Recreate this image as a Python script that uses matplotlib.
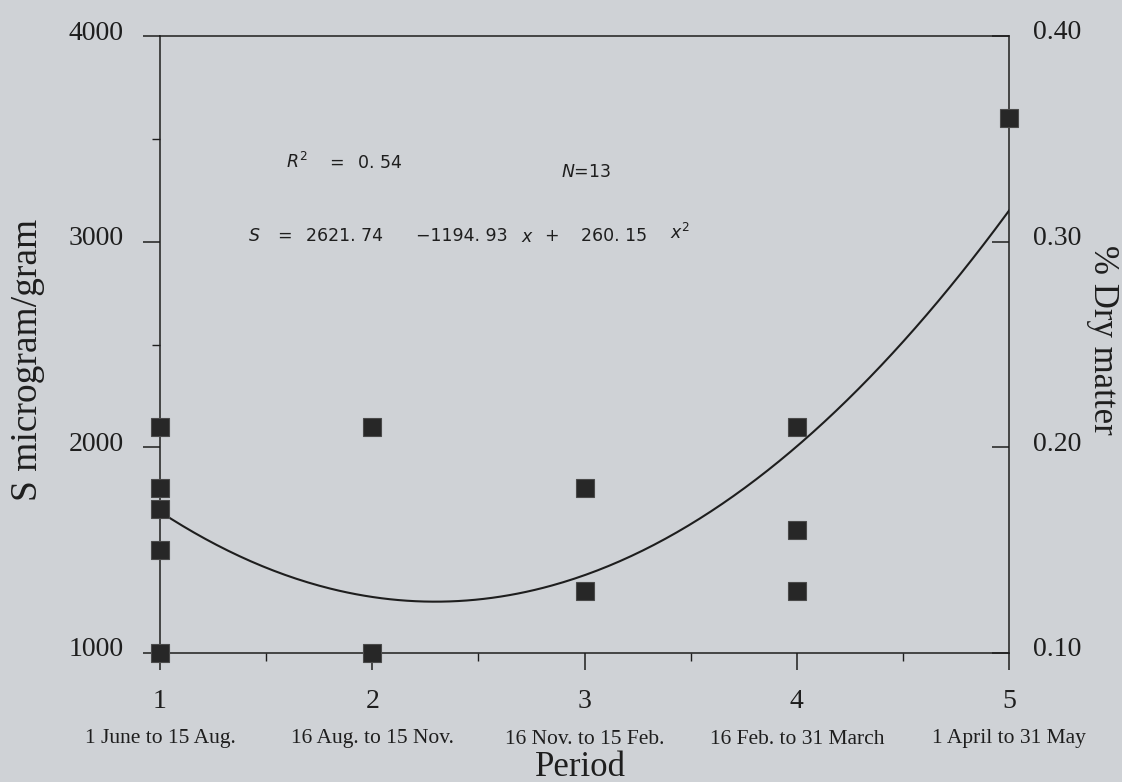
import numpy as np
import matplotlib
matplotlib.use("Agg")
import matplotlib.pyplot as plt
import matplotlib.transforms as mtransforms

# ---- data ----
period_x = [1, 1, 1, 1, 1, 2, 2, 3, 3, 4, 4, 4, 5]
s_values = [2100, 1800, 1700, 1500, 1000, 2100, 1000, 1800, 1300, 2100, 1600, 1300, 3600]
fit_coef = [2621.74, -1194.93, 260.15]   # S = a + b x + c x^2 (printed on chart)
period_ticks = [1, 2, 3, 4, 5]
period_names = ["1 June to 15 Aug.", "16 Aug. to 15 Nov.", "16 Nov. to 15 Feb.",
                "16 Feb. to 31 March", "1 April to 31 May"]
left_ticks = [1000, 2000, 3000, 4000]
right_ticks = [0.10, 0.20, 0.30, 0.40]
right_labels = ["0.10", "0.20", "0.30", "0.40"]

W, H = 1122, 782
BG = "#cfd2d6"
INK = "#1e1e1e"
SERIF = ["Liberation Serif", "DejaVu Serif"]

fig = plt.figure(figsize=(W / 100, H / 100), dpi=100, facecolor=BG)
L, R, T, B = 160, 1009, 36, 653
ax = fig.add_axes([L / W, 1 - B / H, (R - L) / W, (B - T) / H])
ax.set_facecolor(BG)
ax.set_xlim(1, 5)
ax.set_ylim(1000, 4000)

# fitted curve
xs = np.linspace(1, 5, 300)
ys = fit_coef[0] + fit_coef[1] * xs + fit_coef[2] * xs ** 2
ax.plot(xs, ys, color=INK, lw=1.5, zorder=3)

# points
ax.plot(period_x, s_values, linestyle="none", marker="s", markersize=13,
        markerfacecolor="#272727", markeredgecolor="#4a4a4a", markeredgewidth=0.8,
        clip_on=False, zorder=4)

for sp in ax.spines.values():
    sp.set_color(INK)
    sp.set_linewidth(1.1)

ax.set_xticks(period_ticks)
ax.set_xticklabels([str(p) for p in period_ticks])
ax.set_xticks([1.5, 2.5, 3.5, 4.5], minor=True)
ax.set_yticks(left_ticks)
ax.set_yticklabels([str(v) for v in left_ticks])
ax.set_yticks([1500, 2500, 3500], minor=True)
ax.tick_params(axis="both", which="major", direction="out", length=12, width=1.1,
               color=INK, labelsize=20, labelcolor=INK)
ax.tick_params(axis="both", which="minor", direction="out", length=6, width=1.0, color=INK)
ax.tick_params(axis="x", which="major", pad=14)
ax.tick_params(axis="y", which="major", pad=14)
for lab in ax.get_xticklabels() + ax.get_yticklabels():
    lab.set_fontfamily(SERIF)

off = mtransforms.ScaledTranslation(0, 0.06, fig.dpi_scale_trans)
for lab in ax.get_yticklabels():
    lab.set_transform(lab.get_transform() + off)

ax2 = ax.twinx()
ax2.set_ylim(0.1, 0.4)
ax2.set_yticks(right_ticks)
ax2.set_yticklabels(right_labels)
ax2.tick_params(axis="y", direction="in", length=12, width=1.1, color=INK,
                labelsize=20, labelcolor=INK, pad=17)
for lab in ax2.get_yticklabels():
    lab.set_fontfamily(SERIF)
    lab.set_transform(lab.get_transform() + off)
for sp in ax2.spines.values():
    sp.set_visible(False)

# period names under tick labels
btrans = mtransforms.blended_transform_factory(ax.transData, fig.transFigure)
for p, name in zip(period_ticks, period_names):
    ax.text(p, 1 - 739 / H, name, transform=btrans, ha="center", va="center",
            fontsize=15.5, family=SERIF, color=INK)

fig.text(580 / W, 1 - 767 / H, "Period", ha="center", va="center",
         fontsize=25, family=SERIF, color=INK)
fig.text(28 / W, 1 - 360 / H, "S microgram/gram", rotation=90, ha="center", va="center",
         fontsize=27, family=SERIF, color=INK)
fig.text(1103 / W, 1 - 340 / H, "% Dry matter", rotation=270, ha="center", va="center",
         fontsize=25, family=SERIF, color=INK)

# annotations
SANS = ["DejaVu Sans"]
def put(x, y, s, size=12.5):
    fig.text(x / W, 1 - y / H, s, ha="center", va="center", fontsize=size,
             family=SANS, color=INK)

put(297, 162, r"$R^2$")
put(336, 163, "=")
put(380, 163, "0. 54")
put(586, 172, r"$N$=13")
put(254, 236, r"$S$")
put(284, 236, "=")
put(345, 236, "2621. 74")
put(462, 236, "−1194. 93")
put(527, 237, r"$x$")
put(551, 236, "+")
put(614, 236, "260. 15")
put(680, 233, r"$x^2$")

fig.savefig("out.png", dpi=100, facecolor=BG)
